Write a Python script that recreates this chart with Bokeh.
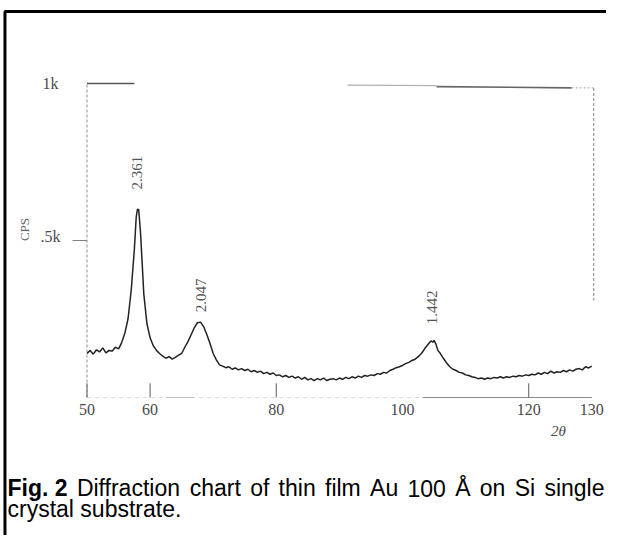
from math import pi
from bokeh.plotting import figure
from bokeh.models import Range1d
from bokeh.core.properties import value
from bokeh.embed import file_html
from bokeh.resources import INLINE

# ---- data (2theta in degrees, intensity in counts/s) ----
two_theta = [50.0, 50.5, 51.0, 51.5, 52.0, 52.5, 53.0, 53.5, 54.0, 54.5, 55.0, 55.5,
             56.0, 56.5, 57.0, 57.5, 57.8, 58.0, 58.2, 58.5, 59.0, 59.5, 60.0, 60.5,
             61.0, 61.5, 62.0, 62.5, 63.0, 63.5, 64.0, 64.5, 65.0, 65.5, 66.0, 66.5,
             67.0, 67.5, 68.0, 68.5, 69.0, 69.5, 70.0, 70.5, 71.0, 71.5, 72.0, 72.5,
             73.0, 73.5, 74.0, 74.5, 75.0, 75.5, 76.0, 76.5, 77.0, 77.5, 78.0, 78.5,
             79.0, 79.5, 80.0, 80.5, 81.0, 81.5, 82.0, 82.5, 83.0, 83.5, 84.0, 84.5,
             85.0, 85.5, 86.0, 86.5, 87.0, 87.5, 88.0, 88.5, 89.0, 89.5, 90.0, 90.5,
             91.0, 91.5, 92.0, 92.5, 93.0, 93.5, 94.0, 94.5, 95.0, 95.5, 96.0, 96.5,
             97.0, 97.5, 98.0, 98.5, 99.0, 99.5, 100.0, 100.5, 101.0, 101.5, 102.0, 102.5,
             103.0, 103.5, 104.0, 104.5, 104.8, 105.0, 105.3, 105.6, 106.0, 106.5, 107.0, 107.5,
             108.0, 108.5, 109.0, 109.5, 110.0, 110.5, 111.0, 111.5, 112.0, 112.5, 113.0, 113.5,
             114.0, 114.5, 115.0, 115.5, 116.0, 116.5, 117.0, 117.5, 118.0, 118.5, 119.0, 119.5,
             120.0, 120.5, 121.0, 121.5, 122.0, 122.5, 123.0, 123.5, 124.0, 124.5, 125.0, 125.5,
             126.0, 126.5, 127.0, 127.5, 128.0, 128.5, 129.0, 129.5, 130.0]
counts = [140, 150, 138, 152, 145, 158, 142, 150, 148, 160, 155, 175,
          205, 250, 340, 470, 575, 600, 598, 520, 330, 235, 190, 165,
          150, 140, 132, 125, 130, 122, 128, 135, 140, 160, 178, 200,
          222, 238, 240, 225, 200, 172, 140, 120, 104, 100, 95, 98,
          90, 94, 88, 92, 86, 90, 82, 86, 80, 84, 76, 80,
          74, 78, 70, 72, 66, 70, 64, 68, 62, 66, 58, 64,
          56, 60, 54, 60, 56, 62, 54, 58, 60, 56, 62, 58,
          64, 60, 66, 62, 68, 64, 70, 68, 72, 70, 76, 74,
          80, 78, 86, 90, 95, 98, 102, 108, 112, 118, 122, 130,
          140, 155, 168, 180, 176, 182, 170, 150, 140, 124, 110, 98,
          90, 86, 80, 78, 72, 70, 66, 64, 60, 62, 58, 62,
          60, 64, 62, 66, 62, 66, 64, 68, 66, 70, 68, 72,
          70, 74, 72, 78, 74, 80, 76, 84, 78, 82, 80, 86,
          82, 88, 84, 90, 92, 88, 98, 94, 100]

x_tick_values = [50, 60, 80, 100, 120, 130]
x_tick_labels = ["50", "60", "80", "100", "120", "130"]
x_tick_marks = [50, 60, 80, 120]
y_tick_values = [1000, 500]
y_tick_labels = ["1k", ".5k"]
y_axis_label = "CPS"
x_axis_label = "2\u03b8"
peak_positions = [58.0, 68.0, 104.75]
peak_label_heights = [716, 325, 287]
peak_labels = ["2.361", "2.047", "1.442"]
caption_bold = "Fig. 2"
caption_words = ["Diffraction", "chart", "of", "thin", "film", "Au", "100", "\u00c5", "on", "Si", "single"]
caption_line2 = "crystal substrate."

# ---- figure: the frame fills the whole canvas; axes are drawn through the scales ----
W, H = 606, 535
PX_PER_DEG = 6.31
X0 = 36.292           # 2theta at the canvas' left edge
p = figure(width=W, height=H, output_backend="svg", toolbar_location=None,
           x_axis_type=None, y_axis_type=None, min_border=0,
           x_range=Range1d(X0, X0 + W / PX_PER_DEG), y_range=Range1d(-439.5, 1264.3))
p.outline_line_color = None
p.background_fill_color = "white"
p.border_fill_color = "white"

serif = value("Liberation Serif")
sans = value("Liberation Sans")
axis_grey = "#4a4a4a"

# outer border of the scanned figure (left and top)
p.line([37.0, 37.0, 140.0], [-470.0, 1229.3, 1229.3], line_color="black", line_width=3)

# left axis (faint, dashed) and its ticks
p.segment(x0=[50], y0=[0], x1=[50], y1=[1000], line_color="#a0a0a0", line_width=1.2, line_dash="3 2")
p.segment(x0=[47.7], y0=[500], x1=[50], y1=[500], line_color="#808080", line_width=1)
# top frame pieces
p.segment(x0=[50], y0=[1000], x1=[57.5], y1=[1000], line_color="#555555", line_width=1.3)
p.segment(x0=[91.3], y0=[995], x1=[105.4], y1=[993], line_color="#b0b0b0", line_width=1.2)
p.segment(x0=[105.4], y0=[990], x1=[126.8], y1=[986], line_color="#666666", line_width=1.6)
p.segment(x0=[126.8], y0=[986], x1=[130.3], y1=[986], line_color="#a0a0a0", line_width=1, line_dash="2 2")
# right frame (dashed)
p.segment(x0=[130.3], y0=[986], x1=[130.3], y1=[309], line_color="#999999", line_width=1.2, line_dash="3 2")
# bottom axis pieces
p.segment(x0=[50], y0=[0], x1=[130], y1=[0], line_color="#dddddd", line_width=1, line_dash="4 4")
p.segment(x0=[62.5], y0=[0], x1=[67.0], y1=[0], line_color="#c0c0c0", line_width=1)
p.segment(x0=[103.2], y0=[0], x1=[130.0], y1=[0], line_color="#8a8a8a", line_width=1.2)
p.segment(x0=x_tick_marks, y0=[0] * len(x_tick_marks), x1=x_tick_marks, y1=[45] * len(x_tick_marks),
          line_color="#777777", line_width=1.2)

# tick labels
p.text(x=x_tick_values, y=[-38] * len(x_tick_values), text=x_tick_labels,
       text_font=serif, text_font_size="16px", text_color=axis_grey,
       text_align="center", text_baseline="middle")
p.text(x=[44.2, 44.2], y=[1000, 513], text=y_tick_labels,
       text_font=serif, text_font_size="16px", text_color=axis_grey,
       text_align="center", text_baseline="middle")
p.text(x=[40.1], y=[535], text=[y_axis_label], angle=pi / 2,
       text_font=serif, text_font_size="13px", text_color="#666666",
       text_align="center", text_baseline="middle")
p.text(x=[124.7], y=[-108], text=[x_axis_label],
       text_font=serif, text_font_style="italic", text_font_size="15px", text_color=axis_grey,
       text_align="center", text_baseline="middle")

# diffraction trace
p.line(two_theta, counts, line_color="#222222", line_width=1.5)

# d-spacing labels over the peaks
p.text(x=peak_positions, y=peak_label_heights, text=peak_labels, angle=pi / 2,
       text_font=serif, text_font_size="15px", text_color="#555555",
       text_align="center", text_baseline="middle")

# ---- caption, justified like the printed figure (Liberation Sans advance widths) ----
REG = {" ": 278, "D": 722, "i": 222, "f": 278, "r": 333, "a": 556, "c": 500, "t": 278,
       "o": 556, "n": 556, "h": 556, "l": 222, "m": 833, "A": 667, "u": 556, "1": 556,
       "0": 556, "\u00c5": 667, "S": 667, "s": 500, "g": 556, "e": 556, "y": 500, "b": 556, ".": 278}
BOLD = {"F": 611, "i": 278, "g": 611, ".": 278, " ": 278, "2": 556}
FS = 23.0
left_px, right_px = 7.0, 604.0


def width_px(word, table):
    return sum(table[ch] for ch in word) * FS / 1000.0


def px_to_x(px):
    return X0 + px / PX_PER_DEG


widths = [width_px(caption_bold, BOLD)] + [width_px(w, REG) for w in caption_words]
gap = (right_px - left_px - sum(widths)) / len(caption_words)
starts = []
pos = left_px
for w in widths:
    starts.append(pos)
    pos += w + gap

cap_y1, cap_y2 = -289.8, -355.0
p.text(x=[px_to_x(starts[0])], y=[cap_y1], text=[caption_bold], text_font=sans, text_font_style="bold",
       text_font_size="23px", text_color="black", text_align="left", text_baseline="middle")
p.text(x=[px_to_x(s) for s in starts[1:]], y=[cap_y1] * len(caption_words), text=caption_words,
       text_font=sans, text_font_size="23px", text_color="black", text_align="left", text_baseline="middle")
p.text(x=[px_to_x(left_px)], y=[cap_y2], text=[caption_line2], text_font=sans,
       text_font_size="23px", text_color="black", text_align="left", text_baseline="middle")

html = file_html(p, INLINE)
open("out.html", "w").write(html)
